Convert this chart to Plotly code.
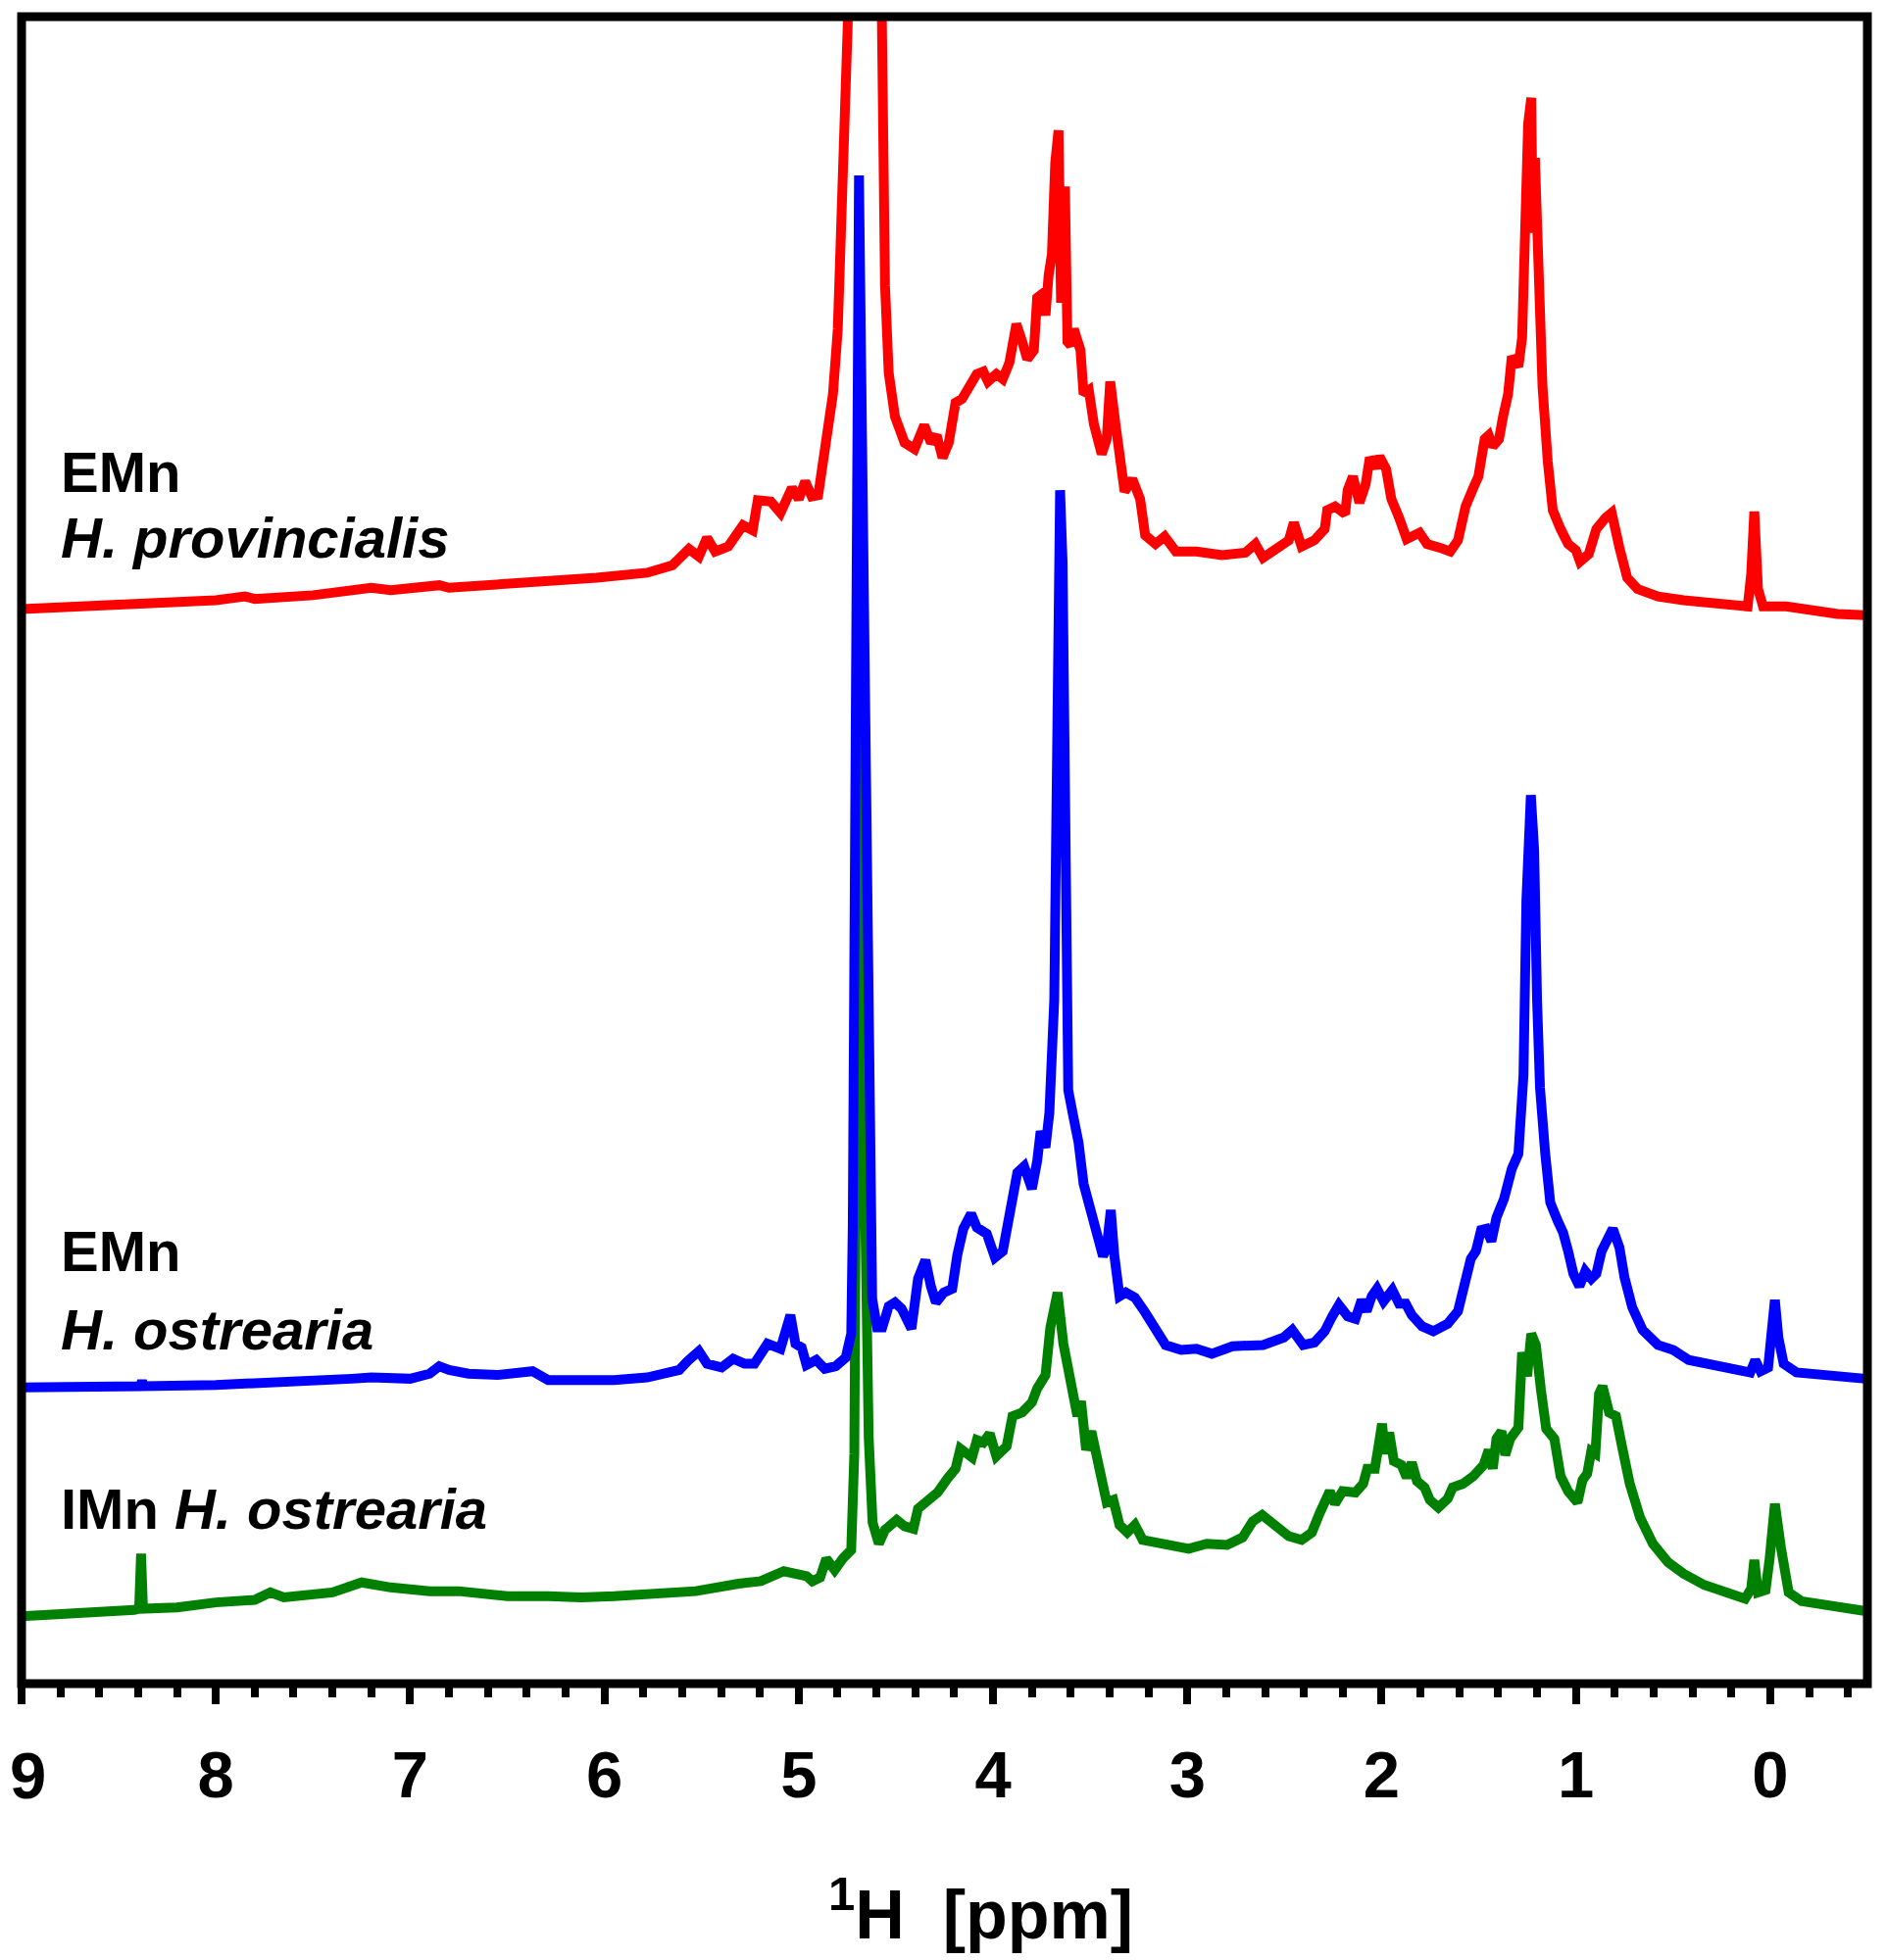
import plotly.graph_objects as go

# ---- data (chemical shift in ppm, intensity in arbitrary units) ----
red_ppm = [9.0, 8.7, 8.4, 8.0, 7.85, 7.8, 7.5, 7.2, 7.1, 7.0, 6.85, 6.8, 6.6, 6.29, 6.04, 5.78, 5.65,
           5.565, 5.514, 5.472, 5.43, 5.363, 5.287, 5.237, 5.211, 5.144, 5.094, 5.035, 5.0, 4.967,
           4.933, 4.90, 4.858, 4.824, 4.799, 4.782, 4.765, 4.748, 4.74, 4.665, 4.585, 4.572, 4.556,
           4.537, 4.505, 4.455, 4.404, 4.354, 4.32, 4.29, 4.26, 4.228, 4.193, 4.16, 4.118, 4.084,
           4.05, 4.026, 3.983, 3.95, 3.916, 3.88, 3.85, 3.824, 3.79, 3.773, 3.748, 3.73, 3.714,
           3.697, 3.68, 3.663, 3.65, 3.63, 3.617, 3.60, 3.584, 3.55, 3.534, 3.507, 3.481, 3.441,
           3.415, 3.397, 3.37, 3.349, 3.323, 3.283, 3.243, 3.217, 3.164, 3.117, 3.059, 2.953, 2.821,
           2.702, 2.65, 2.61, 2.531, 2.478, 2.452, 2.412, 2.346, 2.293, 2.28, 2.24, 2.188, 2.175,
           2.148, 2.114, 2.082, 2.061, 2.03, 2.011, 1.977, 1.95, 1.91, 1.871, 1.805, 1.766, 1.70,
           1.647, 1.607, 1.568, 1.528, 1.502, 1.47, 1.449, 1.428, 1.396, 1.375, 1.349, 1.33, 1.296,
           1.277, 1.264, 1.246, 1.23, 1.222, 1.211, 1.19, 1.172, 1.145, 1.119, 1.079, 1.04, 1.0,
           0.979, 0.934, 0.895, 0.847, 0.816, 0.776, 0.736, 0.683, 0.578, 0.446, 0.288, 0.116,
           0.098, 0.082, 0.063, 0.037, -0.082, -0.214, -0.346, -0.49]
red_int = [860, 862, 865, 867, 870, 868, 871, 877, 875, 876, 879, 877, 879, 881, 885, 889, 895,
           908, 902, 917, 906, 910, 927, 923, 947, 946, 937, 957, 948, 962,
           950, 951, 997, 1032, 1084, 1155, 1242, 1327, 1500, 2600, 1500, 1224, 1119,
           1049, 1014, 993, 988, 1007, 993, 999, 981, 993, 1025, 1028, 1039, 1048,
           1050, 1042, 1048, 1044, 1057, 1088, 1074, 1060, 1067, 1109, 1112, 1095, 1127,
           1144, 1217, 1243, 1105, 1198, 1074, 1071, 1084, 1067, 1032, 1035, 1008, 984,
           996, 1042, 1008, 981, 954, 964, 948, 919, 912, 918, 906, 906, 903,
           905, 912, 901, 909, 915, 929, 910, 915, 924, 939, 942, 936, 955,
           966, 945, 960, 981, 973, 982, 972, 948, 933, 916, 921, 912, 909,
           906, 915, 942, 957, 966, 996, 999, 990, 996, 1014, 1032, 1062, 1054,
           1077, 1158, 1248, 1269, 1161, 1221, 1113, 1038, 978, 939, 924, 912, 907,
           898, 904, 924, 933, 937, 909, 885, 876, 870, 867, 864, 862,
           888, 938, 876, 862, 862, 859, 856, 855]

blue_ppm = [9.0, 8.6, 8.39, 8.38, 8.37, 8.0, 7.6, 7.3, 7.2, 7.0, 6.9, 6.85, 6.8, 6.7, 6.55, 6.4,
            6.37, 6.29, 5.95, 5.78, 5.615, 5.573, 5.514, 5.472, 5.397, 5.338, 5.279, 5.228, 5.161,
            5.094, 5.043, 5.017, 4.985, 4.96, 4.91, 4.866, 4.81, 4.758, 4.73, 4.722, 4.712, 4.70,
            4.69, 4.678, 4.66, 4.645, 4.63, 4.622, 4.597, 4.57, 4.537, 4.505, 4.47, 4.42, 4.386,
            4.348, 4.32, 4.294, 4.253, 4.21, 4.184, 4.153, 4.113, 4.083, 4.032, 3.99, 3.95, 3.906,
            3.875, 3.84, 3.80, 3.773, 3.755, 3.73, 3.71, 3.685, 3.668, 3.655, 3.642, 3.628, 3.613,
            3.587, 3.56, 3.534, 3.502, 3.468, 3.434, 3.415, 3.394, 3.376, 3.349, 3.317, 3.27, 3.217,
            3.164, 3.112, 3.032, 2.953, 2.874, 2.768, 2.61, 2.544, 2.504, 2.46, 2.404, 2.346, 2.293,
            2.254, 2.22, 2.175, 2.135, 2.103, 2.077, 2.051, 2.024, 1.99, 1.945, 1.91, 1.876, 1.845,
            1.792, 1.734, 1.66, 1.607, 1.568, 1.541, 1.515, 1.488, 1.462, 1.435, 1.409, 1.37, 1.33,
            1.296, 1.27, 1.255, 1.232, 1.215, 1.2, 1.185, 1.158, 1.132, 1.093, 1.066, 1.04, 1.013,
            0.982, 0.952, 0.921, 0.895, 0.868, 0.842, 0.81, 0.776, 0.75, 0.71, 0.657, 0.578, 0.499,
            0.42, 0.314, 0.182, 0.103, 0.077, 0.05, 0.011, -0.008, -0.024, -0.042, -0.069, -0.135,
            -0.293, -0.491]
blue_int = [237, 238, 238, 242, 238, 239, 241, 244, 245, 244, 248, 254, 251, 248, 247, 248,
            250, 243, 243, 245, 251, 258, 266, 256, 253, 260, 256, 256, 272,
            268, 295, 272, 269, 255, 259, 252, 254, 261, 280, 367, 647, 1047,
            1207, 1047, 787, 627, 447, 308, 285, 285, 302, 305, 300, 284, 324,
            339, 318, 305, 313, 316, 343, 364, 376, 365, 360, 341, 346, 382,
            409, 414, 396, 418, 442, 429, 457, 547, 847, 955, 897, 647, 475,
            454, 433, 400, 381, 355, 342, 349, 379, 343, 310, 313, 309, 297,
            283, 271, 267, 268, 264, 270, 271, 274, 277, 283, 271, 273, 282,
            294, 303, 294, 292, 307, 298, 310, 316, 306, 315, 304, 304, 295,
            286, 282, 288, 298, 319, 340, 346, 363, 364, 354, 373, 388, 412,
            424, 487, 627, 711, 667, 547, 477, 424, 385, 370, 361, 346, 328,
            318, 330, 324, 328, 346, 354, 364, 349, 325, 301, 283, 271, 267,
            259, 255, 252, 249, 259, 250, 253, 280, 307, 277, 256, 249,
            247, 244]

green_ppm = [9.0, 8.7, 8.42, 8.395, 8.385, 8.375, 8.2, 8.0, 7.8, 7.72, 7.65, 7.4, 7.25, 7.1, 6.9,
             6.75, 6.5, 6.29, 6.12, 5.95, 5.7, 5.53, 5.31, 5.195, 5.077, 4.959, 4.93, 4.89, 4.858,
             4.815, 4.774, 4.73, 4.714, 4.705, 4.69, 4.675, 4.657, 4.64, 4.62, 4.588, 4.556, 4.496,
             4.455, 4.41, 4.386, 4.336, 4.285, 4.235, 4.193, 4.168, 4.108, 4.083, 4.05, 4.017, 3.983,
             3.93, 3.90, 3.85, 3.80, 3.773, 3.73, 3.705, 3.668, 3.638, 3.62, 3.587, 3.566, 3.547,
             3.521, 3.494, 3.468, 3.441, 3.415, 3.381, 3.349, 3.309, 3.27, 3.23, 3.138, 3.059, 2.993,
             2.90, 2.795, 2.716, 2.663, 2.615, 2.557, 2.478, 2.412, 2.359, 2.32, 2.293, 2.267, 2.24,
             2.201, 2.135, 2.095, 2.074, 2.035, 2.016, 1.998, 1.982, 1.961, 1.937, 1.898, 1.871,
             1.845, 1.818, 1.779, 1.752, 1.708, 1.66, 1.634, 1.581, 1.528, 1.475, 1.449, 1.428,
             1.409, 1.383, 1.364, 1.338, 1.296, 1.277, 1.251, 1.23, 1.206, 1.18, 1.153, 1.111,
             1.079, 1.04, 0.992, 0.966, 0.942, 0.921, 0.90, 0.881, 0.863, 0.829, 0.794, 0.763,
             0.723, 0.67, 0.604, 0.525, 0.446, 0.34, 0.235, 0.129, 0.098, 0.082, 0.063, 0.024,
             0.003, -0.024, -0.055, -0.095, -0.161, -0.293, -0.491]
green_int = [54, 56, 59, 60, 104, 60, 61, 65, 67, 73, 69, 73, 81, 77, 74,
             74, 70, 70, 69, 70, 73, 74, 80, 82, 90, 86, 82, 85, 100,
             91, 100, 107, 184, 447, 832, 547, 280, 197, 129, 112, 123, 131,
             126, 124, 140, 146, 153, 164, 172, 188, 181, 195, 193, 200, 182,
             190, 214, 217, 225, 236, 247, 285, 313, 272, 257, 237, 214, 226,
             187, 202, 184, 163, 145, 147, 127, 121, 127, 115, 112, 109, 108,
             112, 111, 117, 130, 135, 127, 118, 115, 121, 136, 145, 154, 144,
             154, 153, 160, 172, 172, 190, 208, 184, 201, 178, 175, 165,
             177, 162, 157, 147, 141, 148, 157, 160, 166, 175, 187, 172,
             196, 202, 183, 196, 205, 265, 246, 280, 271, 235, 204, 196,
             166, 154, 145, 163, 168, 186, 184, 232, 238, 217, 214, 190,
             160, 133, 112, 97, 88, 79, 73, 68, 76, 99, 73, 75,
             100, 144, 109, 73, 66, 63, 58]

x_range = [9.0, -0.5]
y_range = [0, 1334]
tick_vals = [9, 8, 7, 6, 5, 4, 3, 2, 1, 0]
# the "9" sits on the page edge, so it is drawn as a separate text kept inside the page
tick_text = ["", "8", "7", "6", "5", "4", "3", "2", "1", "0"]
edge_tick_text = "9"
x_title = "<sup>1</sup>H&nbsp;&nbsp;[ppm]"
labels = [
    ("<b>EMn</b>", 502),
    ("<b><i>H. provincialis</i></b>", 569),
    ("<b>EMn</b>", 1297),
    ("<b><i>H. ostrearia</i></b>", 1377),
    ("<b>IMn <i>H. ostrearia</i></b>", 1560),
]

# page has an 8px body margin: compensate so the plot area sits at page x 22..1905, y 17..1718
W, H = 1916, 1992
L, R, T, B = 14, 19, 9, 282
PX0, PY0 = 22, 17          # page coords of plot-area top-left
plot_h = H - T - B
plot_w = W - L - R
FONT = "Liberation Sans, Arial, sans-serif"


def px(xp):
    return (xp - PX0) / plot_w


def py(yp):
    return (PY0 + plot_h - yp) / plot_h


fig = go.Figure()
fig.add_trace(go.Scatter(x=green_ppm, y=green_int, mode="lines",
                         line=dict(color="#008000", width=10), hoverinfo="skip"))
fig.add_trace(go.Scatter(x=blue_ppm, y=blue_int, mode="lines",
                         line=dict(color="#0000ff", width=10), hoverinfo="skip"))
fig.add_trace(go.Scatter(x=red_ppm, y=red_int, mode="lines",
                         line=dict(color="#ff0000", width=10), hoverinfo="skip"))

for text, baseline in labels:
    fig.add_annotation(
        text=text, xref="paper", yref="paper",
        x=px(62), y=py(baseline + 12),
        xanchor="left", yanchor="bottom", showarrow=False,
        borderpad=0, borderwidth=0,
        font=dict(family=FONT, size=58, color="black"),
    )

fig.add_annotation(
    text="<b>" + edge_tick_text + "</b>", xref="paper", yref="paper",
    x=px(10), y=py(1811),
    xanchor="left", yanchor="middle", showarrow=False,
    borderpad=0, borderwidth=0,
    font=dict(family=FONT, size=67, color="black"),
)

fig.add_annotation(
    text="<b>" + x_title + "</b>", xref="paper", yref="paper",
    x=px(1000), y=py(1978 + 15),
    xanchor="center", yanchor="bottom", showarrow=False,
    borderpad=0, borderwidth=0,
    font=dict(family=FONT, size=70, color="black"),
)

fig.add_shape(type="rect", xref="paper", yref="paper", x0=0, x1=1, y0=0, y1=1,
              line=dict(color="black", width=9), layer="above")

fig.update_layout(
    width=W, height=H,
    margin=dict(l=L, r=R, t=T, b=B, autoexpand=False),
    paper_bgcolor="white", plot_bgcolor="white",
    showlegend=False,
    xaxis=dict(
        range=x_range, showgrid=False, zeroline=False, showline=False,
        automargin=False,
        tickmode="array", tickvals=tick_vals, ticktext=tick_text,
        ticks="outside", ticklen=20, tickwidth=8, tickcolor="black",
        tickfont=dict(family=FONT, size=67, color="black", weight="bold"),
        ticklabelstandoff=15,
        minor=dict(dtick=0.2, tick0=0, ticks="outside", ticklen=13, tickwidth=8,
                   tickcolor="black", showgrid=False),
    ),
    yaxis=dict(range=y_range, visible=False, showgrid=False, zeroline=False,
               automargin=False),
)

fig.write_html("out.html")
